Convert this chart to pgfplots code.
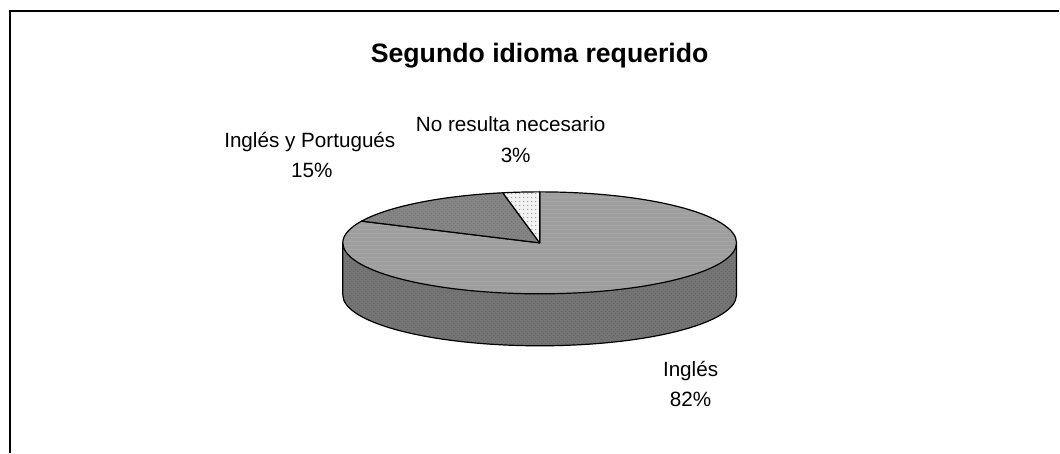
\documentclass[border=0pt]{standalone}
\usepackage{fontspec}
\setmainfont{Liberation Sans}
\usepackage{pgfplots}
\usepackage{pgfplotstable}
\usetikzlibrary{patterns}
\pgfplotsset{compat=1.18}

\definecolor{topmain}{gray}{0.62}
\definecolor{sidemain}{gray}{0.46}
\definecolor{topsecond}{gray}{0.52}
\definecolor{topthird}{gray}{0.95}

\pgfplotstableread{
share
82
15
3
}\piedata

\pgfplotstablegetelem{0}{share}\of\piedata \let\shA\pgfplotsretval
\pgfplotstablegetelem{1}{share}\of\piedata \let\shB\pgfplotsretval
\pgfplotstablegetelem{2}{share}\of\piedata \let\shC\pgfplotsretval
\pgfmathsetmacro{\aZ}{90}
\pgfmathsetmacro{\aA}{90-3.6*\shA}
\pgfmathsetmacro{\aB}{\aA-3.6*\shB}
\pgfmathsetmacro{\aC}{\aB-3.6*\shC}

\begin{document}
\begin{tikzpicture}
\begin{axis}[
  x=0.75pt, y=0.75pt,
  xmin=0, xmax=1060, ymin=0, ymax=453,
  hide axis, clip=false,
  scale only axis,
]
\path (axis cs:0,0) rectangle (axis cs:1060,453);
% frame
\draw[line width=1pt] (axis cs:10,0) -- (axis cs:10,442) -- (axis cs:1060,442);
% title
\node[anchor=base, font=\fontsize{20}{24}\selectfont\bfseries] at (axis cs:540,390) {Segundo idioma requerido};
% side of the pie (front half)
\fill[sidemain] (axis cs:343,210) arc[start angle=180, end angle=360, x radius=147.75pt, y radius=38.25pt]
   -- ++(0,-39pt) arc[start angle=360, end angle=180, x radius=147.75pt, y radius=38.25pt] -- cycle;
\fill[pattern=crosshatch dots, pattern color=black!60] (axis cs:343,210) arc[start angle=180, end angle=360, x radius=147.75pt, y radius=38.25pt]
   -- ++(0,-39pt) arc[start angle=360, end angle=180, x radius=147.75pt, y radius=38.25pt] -- cycle;
\draw[line width=0.9pt] (axis cs:343,210) -- ++(0,-39pt) arc[start angle=180, end angle=360, x radius=147.75pt, y radius=38.25pt] -- ++(0,39pt);
% top slices
\fill[topmain] (axis cs:540,210) -- (axis cs:{540+197*cos(\aZ)},{210+51*sin(\aZ)})
   arc[start angle=\aZ, end angle=\aA, x radius=147.75pt, y radius=38.25pt] -- cycle;
\filldraw[pattern=horizontal lines, pattern color=black!35, line width=0.9pt, line join=round] (axis cs:540,210) -- (axis cs:{540+197*cos(\aZ)},{210+51*sin(\aZ)})
   arc[start angle=\aZ, end angle=\aA, x radius=147.75pt, y radius=38.25pt] -- cycle;
\fill[topsecond] (axis cs:540,210) -- (axis cs:{540+197*cos(\aA)},{210+51*sin(\aA)})
   arc[start angle=\aA, end angle=\aB, x radius=147.75pt, y radius=38.25pt] -- cycle;
\filldraw[pattern=crosshatch dots, pattern color=black!55, line width=0.9pt, line join=round] (axis cs:540,210) -- (axis cs:{540+197*cos(\aA)},{210+51*sin(\aA)})
   arc[start angle=\aA, end angle=\aB, x radius=147.75pt, y radius=38.25pt] -- cycle;
\fill[topthird] (axis cs:540,210) -- (axis cs:{540+197*cos(\aB)},{210+51*sin(\aB)})
   arc[start angle=\aB, end angle=\aC, x radius=147.75pt, y radius=38.25pt] -- cycle;
\filldraw[pattern=dots, pattern color=black!40, line width=0.9pt, line join=round] (axis cs:540,210) -- (axis cs:{540+197*cos(\aB)},{210+51*sin(\aB)})
   arc[start angle=\aB, end angle=\aC, x radius=147.75pt, y radius=38.25pt] -- cycle;
% labels
\begin{scope}[every node/.style={anchor=base, font=\fontsize{15.5}{18}\selectfont}]
\node at (axis cs:310,305) {Inglés y Portugués};
\node at (axis cs:312,275) {15\%};
\node at (axis cs:511,321) {No resulta necesario};
\node at (axis cs:516,290) {3\%};
\node at (axis cs:691,76) {Inglés};
\node at (axis cs:691,46) {82\%};
\end{scope}
\end{axis}
\end{tikzpicture}
\end{document}
